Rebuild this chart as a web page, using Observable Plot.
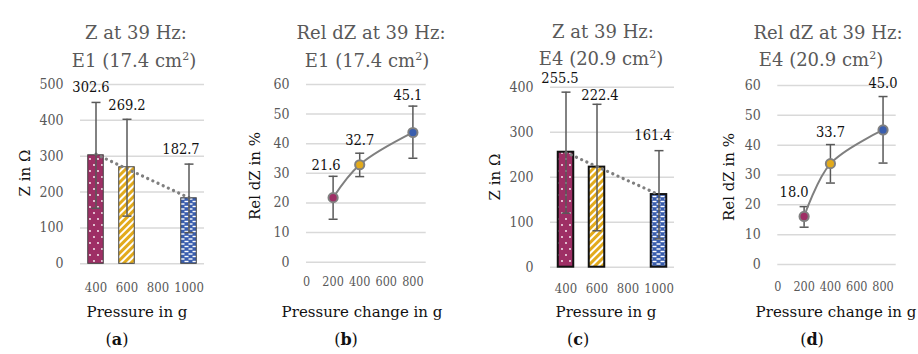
<!DOCTYPE html>
<html><head><meta charset="utf-8">
<script src="https://cdn.jsdelivr.net/npm/d3@7"></script>
<script src="https://cdn.jsdelivr.net/npm/@observablehq/plot@0.6"></script>
<style>
body{margin:0;background:#fff;}
#root{position:relative;width:918px;height:354px;overflow:hidden;font-family:"DejaVu Serif",serif;}
.panel{position:absolute;top:0;}
.t{position:absolute;white-space:nowrap;transform:translate(-50%,-50%);line-height:1;}
.title{font-size:18px;color:#595959;}
.title sup{font-size:11px;vertical-align:0;position:relative;top:-7px;}
.ylab{font-size:15px;color:#111;transform:translate(-50%,-50%) rotate(-90deg);}
.xlab{font-size:15px;color:#111;}
.cap{font-size:16px;color:#111;}
svg text{font-family:"DejaVu Serif Condensed","DejaVu Serif",serif;font-stretch:condensed;}
</style></head><body><div id="root"></div>
<script>
// ---- data ----
const pressure = [400, 600, 1000];
const zE1 = [302.6, 269.2, 182.7];
const zE1Low = [155, 133, 87];
const zE1High = [450, 403, 278];
const zE4 = [255.5, 222.4, 161.4];
const zE4Low = [120, 81, 63];
const zE4High = [389, 362, 259];

const pressureChange = [200, 400, 800];
const relE1 = [21.8, 32.9, 43.8];          // plotted points
const relE1Labels = ["21.6", "32.7", "45.1"];
const relE1Low = [14.5, 28.9, 35.1];
const relE1High = [29.0, 36.8, 52.7];
const relE4 = [16.1, 33.8, 45.1];
const relE4Labels = ["18.0", "33.7", "45.0"];
const relE4Low = [12.5, 27.3, 34.0];
const relE4High = [19.4, 40.2, 56.3];

const zTicksE1 = [0, 100, 200, 300, 400, 500];
const zTicksE4 = [0, 100, 200, 300, 400];
const relTicks = [0, 10, 20, 30, 40, 50, 60];
const pressureTicks = [400, 600, 800, 1000];
const changeTicks = [0, 200, 400, 600, 800];
const seriesColors = ["#9E2F65", "#E2AA1C", "#3A5EAE"];

// ---- helpers ----
const root = document.getElementById("root");
const NS = "http://www.w3.org/2000/svg";
const cap = {draw(ctx) { ctx.moveTo(-4.5, 0); ctx.lineTo(4.5, 0); }};
const baseStyle = {fontFamily: "DejaVu Serif Condensed, DejaVu Serif, serif", fontSize: "14px", color: "#595959", background: "transparent", overflow: "visible"};

function addText(cls, x, y, html) {
  const d = document.createElement("div");
  d.className = "t " + cls;
  d.style.left = x + "px"; d.style.top = y + "px";
  d.innerHTML = html;
  root.appendChild(d);
}
function mount(svg, left) {
  const w = document.createElement("div");
  w.className = "panel"; w.style.left = left + "px";
  w.appendChild(svg); root.appendChild(w);
}
function patterns(svg, id) {
  const defs = document.createElementNS(NS, "defs");
  defs.innerHTML = `
  <pattern id="${id}-0" patternUnits="userSpaceOnUse" width="8" height="12">
    <rect width="8" height="12" fill="${seriesColors[0]}"/>
    <circle cx="2" cy="3" r="0.9" fill="#fff"/><circle cx="6" cy="9" r="0.9" fill="#fff"/>
  </pattern>
  <pattern id="${id}-1" patternUnits="userSpaceOnUse" width="5" height="5" patternTransform="rotate(45)">
    <rect width="5" height="5" fill="${seriesColors[1]}"/><rect width="2" height="5" fill="#fff"/>
  </pattern>
  <pattern id="${id}-2" patternUnits="userSpaceOnUse" width="8" height="5">
    <rect width="8" height="5" fill="${seriesColors[2]}"/>
    <rect x="0.5" y="0.8" width="4" height="1.4" fill="#fff"/>
    <rect x="4.5" y="3.3" width="3.5" height="1.4" fill="#fff"/><rect x="0" y="3.3" width="0.5" height="1.4" fill="#fff"/>
  </pattern>`;
  svg.insertBefore(defs, svg.firstChild);
}

function barPanel(c) {
  const rows = pressure.map((x, i) => ({x, v: c.values[i], lo: c.low[i], hi: c.high[i], i, label: c.values[i].toFixed(1)}));
  const svg = Plot.plot({
    width: c.width, height: 354,
    marginTop: c.mt, marginBottom: c.mb, marginLeft: c.ml, marginRight: c.mr,
    x: {domain: [300, 1100]}, y: {domain: [0, c.ticks[c.ticks.length - 1]]},
    color: {type: "identity"},
    style: baseStyle,
    marks: [
      Plot.gridY(c.ticks, {stroke: "#d9d9d9", strokeOpacity: 1, strokeWidth: 1.5}),
      Plot.rectY(rows, {x1: d => d.x - 50, x2: d => d.x + 50, y: "v", fill: d => `url(#${c.id}-${d.i})`, stroke: c.barStroke, strokeWidth: c.barStrokeWidth}),
      Plot.linearRegressionY(rows, {x: "x", y: "v", ci: 0, stroke: "#7f7f7f", strokeWidth: 3.2, strokeDasharray: "0.1 5.6", strokeLinecap: "round"}),
      Plot.ruleX(rows, {x: "x", y1: "lo", y2: "hi", stroke: "#595959", strokeWidth: 1.5}),
      Plot.dot(rows, {x: "x", y: "hi", symbol: cap, stroke: "#595959", strokeWidth: 1.5, fill: "none"}),
      Plot.dot(rows, {x: "x", y: "lo", symbol: cap, stroke: "#595959", strokeWidth: 1.5, fill: "none"}),
      ...rows.map((r, i) => Plot.text([r], {x: "x", y: "hi", text: "label", dx: c.labelDx[i], dy: c.labelDy[i], fill: "#111", fontSize: 14.5})),
      Plot.axisY(c.ticks, {tickSize: 0, tickPadding: 17, label: null}),
      Plot.axisX(pressureTicks, {tickSize: 0, tickPadding: c.xPad, label: null, fontSize: 13, tickFormat: d => String(d)})
    ]
  });
  patterns(svg, c.id);
  mount(svg, c.left);
}

function linePanel(c) {
  const rows = pressureChange.map((x, i) => ({x, v: c.values[i], lo: c.low[i], hi: c.high[i], i, label: c.labels[i], color: seriesColors[i]}));
  const svg = Plot.plot({
    width: c.width, height: 354,
    marginTop: c.mt, marginBottom: c.mb, marginLeft: c.ml, marginRight: c.mr,
    x: {domain: [0, 900]}, y: {domain: [0, 60]},
    color: {type: "identity"},
    style: baseStyle,
    marks: [
      Plot.gridY(relTicks, {stroke: "#d9d9d9", strokeOpacity: 1, strokeWidth: 1.5}),
      Plot.ruleX(rows, {x: "x", y1: "lo", y2: "hi", stroke: "#595959", strokeWidth: 1.5}),
      Plot.dot(rows, {x: "x", y: "hi", symbol: cap, stroke: "#595959", strokeWidth: 1.5, fill: "none"}),
      Plot.dot(rows, {x: "x", y: "lo", symbol: cap, stroke: "#595959", strokeWidth: 1.5, fill: "none"}),
      Plot.line(rows, {x: "x", y: "v", curve: "catmull-rom", stroke: "#7f7f7f", strokeWidth: 2}),
      Plot.dot(rows, {x: "x", y: "v", r: 4.6, fill: "color", stroke: "#808080", strokeWidth: 2}),
      ...rows.map((r, i) => Plot.text([r], {x: "x", y: "hi", text: "label", dx: c.labelDx[i], dy: c.labelDy[i], fill: "#111", fontSize: 14.5})),
      Plot.axisY(relTicks, {tickSize: 0, tickPadding: 17, label: null}),
      Plot.axisX(changeTicks, {tickSize: 0, tickPadding: c.xPad, label: null, fontSize: 12.5, tickFormat: d => String(d)})
    ]
  });
  mount(svg, c.left);
}

// ---- panels ----
barPanel({id: "pa", left: 0, width: 230, mt: 84, mb: 90.7, ml: 80, mr: 26, xPad: 19,
  values: zE1, low: zE1Low, high: zE1High, ticks: zTicksE1,
  barStroke: "#404040", barStrokeWidth: 1, labelDx: [-5, 0, -8], labelDy: [-15, -14, -15]});
linePanel({left: 230, width: 230, mt: 84, mb: 92.3, ml: 76, mr: 34.3, xPad: 15,
  values: relE1, labels: relE1Labels, low: relE1Low, high: relE1High,
  labelDx: [-7, 0, -5], labelDy: [-11, -13, -11]});
barPanel({id: "pc", left: 460, width: 230, mt: 86.7, mb: 87.3, ml: 90, mr: 16, xPad: 17,
  values: zE4, low: zE4Low, high: zE4High, ticks: zTicksE4,
  barStroke: "#111", barStrokeWidth: 2, labelDx: [-6, 3, -6], labelDy: [-14, -9, -15]});
linePanel({left: 690, width: 228, mt: 85, mb: 90, ml: 87.3, mr: 22.3, xPad: 18,
  values: relE4, labels: relE4Labels, low: relE4Low, high: relE4High,
  labelDx: [-10, 0, 0], labelDy: [-14, -12, -13]});

// ---- text ----
addText("title", 136, 33, "Z at 39 Hz:");
addText("title", 134, 61, "E1 (17.4 cm<sup>2</sup>)");
addText("title", 371, 33, "Rel dZ at 39 Hz:");
addText("title", 367, 61, "E1 (17.4 cm<sup>2</sup>)");
addText("title", 603, 32, "Z at 39 Hz:");
addText("title", 601, 59, "E4 (20.9 cm<sup>2</sup>)");
addText("title", 828, 33, "Rel dZ at 39 Hz:");
addText("title", 821, 60, "E4 (20.9 cm<sup>2</sup>)");

addText("ylab", 25, 173, "Z in Ω");
addText("ylab", 255, 176, "Rel dZ in %");
addText("ylab", 495, 177, "Z in Ω");
addText("ylab", 729, 177, "Rel dZ in %");

addText("xlab", 137, 312, "Pressure in g");
addText("xlab", 362, 312, "Pressure change in g");
addText("xlab", 606, 312, "Pressure in g");
addText("xlab", 836, 312, "Pressure change in g");

addText("cap", 117, 340, "(<b>a</b>)");
addText("cap", 346, 340, "(<b>b</b>)");
addText("cap", 578, 340, "(<b>c</b>)");
addText("cap", 812, 340, "(<b>d</b>)");
</script></body></html>
